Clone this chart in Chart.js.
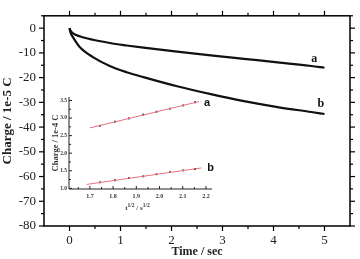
<!DOCTYPE html>
<html>
<head>
<meta charset="utf-8">
<script src="https://cdn.jsdelivr.net/npm/chart.js@4.4.1/dist/chart.umd.min.js"></script>
<style>
html,body{margin:0;padding:0;background:#fff;}
#wrap{position:relative;width:360px;height:259px;}
#mainChart{position:absolute;left:0;top:0;}
#insetBox{position:absolute;left:51px;top:90px;width:176px;height:125px;}
</style>
</head>
<body>
<div id="wrap">
  <canvas id="mainChart" width="360" height="259"></canvas>
  <div id="insetBox"><canvas id="insetChart" width="176" height="125"></canvas></div>
</div>
<script>
// MAIN DATA (charge vs time)
const timeSec = [0, 0.02, 0.07, 0.2, 0.46, 0.79, 1.12, 1.45, 2.11, 2.77, 3.42, 4.08, 4.74, 5.0];
const chargeA = [0, -1.0, -2.1, -3.3, -4.7, -6.0, -7.0, -7.9, -9.5, -11.0, -12.4, -13.8, -15.3, -16.0];
const chargeB = [0, -1.8, -3.7, -7.6, -11.7, -15.3, -17.8, -19.8, -23.5, -26.7, -29.5, -31.9, -33.9, -34.7];
const xTicks = [0, 1, 2, 3, 4, 5];
const yTicks = [-80, -70, -60, -50, -40, -30, -20, -10, 0];

// INSET DATA (charge vs t^1/2)
const sqrtT = [1.743, 1.808, 1.868, 1.930, 1.987, 2.045, 2.102, 2.153];
const insetA = [2.78, 2.90, 2.99, 3.10, 3.18, 3.27, 3.36, 3.45];
const insetB = [1.17, 1.23, 1.29, 1.34, 1.40, 1.46, 1.51, 1.55];
const fitXA = [1.70, 2.17];
const fitA = [2.72, 3.47];
const fitXB = [1.686, 2.18];
const fitB = [1.11, 1.58];
const insetXTicks = [1.7, 1.8, 1.9, 2.0, 2.1, 2.2];
const insetYTicks = [1.0, 1.5, 2.0, 2.5, 3.0, 3.5];

const SERIF = "'Liberation Serif', 'DejaVu Serif', serif";

function seg(ctx, x1, y1, x2, y2){
  ctx.beginPath(); ctx.moveTo(x1, y1); ctx.lineTo(x2, y2); ctx.stroke();
}
function pts(xs, ys){ return xs.map((v, i) => ({x: v, y: ys[i]})); }

// frame + ticks on all four sides, curve labels
const frameTicks = {
  id: 'frameTicks',
  afterDraw(chart){
    const {ctx, chartArea: a, scales: {x, y}} = chart;
    ctx.save();
    ctx.strokeStyle = '#000';
    ctx.lineWidth = 1.5;
    ctx.strokeRect(a.left, a.top, a.right - a.left, a.bottom - a.top);
    ctx.lineWidth = 1.2;
    for (let v = 0; v <= 5; v += 0.5){
      const px = x.getPixelForValue(v), len = v % 1 === 0 ? 5 : 3;
      seg(ctx, px, a.bottom, px, a.bottom + len);
      seg(ctx, px, a.top, px, a.top - len);
    }
    for (let v = -80; v <= 5; v += 5){
      const py = y.getPixelForValue(v), len = v % 10 === 0 ? 5 : 3;
      seg(ctx, a.left, py, a.left - len, py);
      seg(ctx, a.right, py, a.right + len, py);
    }
    ctx.fillStyle = '#111';
    ctx.font = 'bold 12px ' + SERIF;
    ctx.textAlign = 'center';
    ctx.textBaseline = 'middle';
    ctx.fillText('a', x.getPixelForValue(4.8), y.getPixelForValue(-12.6));
    ctx.fillText('b', x.getPixelForValue(4.93), y.getPixelForValue(-30.8));
    ctx.restore();
  }
};

new Chart(document.getElementById('mainChart'), {
  type: 'line',
  data: {
    datasets: [
      {label: 'a', data: pts(timeSec, chargeA), borderColor: '#111', borderWidth: 2.2, pointRadius: 0, cubicInterpolationMode: 'monotone'},
      {label: 'b', data: pts(timeSec, chargeB), borderColor: '#111', borderWidth: 2.2, pointRadius: 0, cubicInterpolationMode: 'monotone'}
    ]
  },
  options: {
    responsive: false,
    animation: false,
    layout: {padding: {top: 7, right: 10, left: 0, bottom: 0}},
    plugins: {legend: {display: false}, tooltip: {enabled: false}},
    scales: {
      x: {
        type: 'linear', min: -0.5, max: 5.5,
        afterBuildTicks: s => { s.ticks = xTicks.map(v => ({value: v})); },
        afterFit: s => { s.height = 33; },
        grid: {display: false, drawTicks: false}, border: {display: false},
        ticks: {color: '#222', padding: 7, font: {family: SERIF, size: 13}},
        title: {display: true, text: 'Time / sec', color: '#222', padding: {top: 0, bottom: 0}, font: {family: SERIF, size: 12, weight: 'bold'}}
      },
      y: {
        type: 'linear', min: -80, max: 5,
        afterBuildTicks: s => { s.ticks = yTicks.map(v => ({value: v})); },
        afterFit: s => { s.width = 44; },
        grid: {display: false, drawTicks: false}, border: {display: false},
        ticks: {color: '#222', padding: 8, font: {family: SERIF, size: 13}},
        title: {display: true, text: 'Charge / 1e-5 C', color: '#222', padding: {top: 0, bottom: 0}, font: {family: SERIF, size: 13, weight: 'bold'}}
      }
    }
  },
  plugins: [frameTicks]
});

// INSET axes, ticks, labels
const insetDeco = {
  id: 'insetDeco',
  afterDraw(chart){
    const {ctx, chartArea: a, scales: {x, y}} = chart;
    ctx.save();
    ctx.strokeStyle = '#222';
    ctx.lineWidth = 1;
    seg(ctx, a.left, a.top, a.left, a.bottom);
    seg(ctx, a.left, a.bottom, a.right, a.bottom);
    for (let v = 1.65; v <= 2.2251; v += 0.05){
      const px = x.getPixelForValue(v);
      const major = Math.abs(v * 10 - Math.round(v * 10)) < 0.01;
      seg(ctx, px, a.bottom, px, a.bottom - (major ? 3 : 2));
    }
    for (let v = 1.0; v <= 3.501; v += 0.25){
      const py = y.getPixelForValue(v);
      const major = Math.abs(v * 2 - Math.round(v * 2)) < 0.01;
      seg(ctx, a.left, py, a.left + (major ? 3 : 2), py);
    }
    // x title with superscripts
    ctx.fillStyle = '#333';
    ctx.textBaseline = 'alphabetic';
    ctx.textAlign = 'left';
    const parts = [['t', 7, 0], ['1/2', 5.5, -3], [' / ', 7, 0], ['s', 7, 0], ['1/2', 5.5, -3]];
    let w = 0;
    parts.forEach(p => { ctx.font = 'bold ' + p[1] + 'px ' + SERIF; w += ctx.measureText(p[0]).width; });
    let cx = (a.left + a.right) / 2 - w / 2 - 3;
    const by = a.bottom + 21;
    parts.forEach(p => {
      ctx.font = 'bold ' + p[1] + 'px ' + SERIF;
      ctx.fillText(p[0], cx, by + p[2]);
      cx += ctx.measureText(p[0]).width;
    });
    // curve labels
    ctx.fillStyle = '#111';
    ctx.font = 'bold 11px "Liberation Sans", Arial, sans-serif';
    ctx.textAlign = 'center';
    ctx.textBaseline = 'middle';
    ctx.fillText('a', x.getPixelForValue(2.205), y.getPixelForValue(3.42));
    ctx.fillText('b', x.getPixelForValue(2.22), y.getPixelForValue(1.58));
    ctx.restore();
  }
};

new Chart(document.getElementById('insetChart'), {
  type: 'line',
  data: {
    datasets: [
      {data: pts(fitXA, fitA), borderColor: '#e8707c', borderWidth: 1, pointRadius: 0},
      {data: pts(fitXB, fitB), borderColor: '#e8707c', borderWidth: 1, pointRadius: 0},
      {data: pts(sqrtT, insetA), showLine: false, pointRadius: 1.3, pointStyle: 'rect', backgroundColor: '#222', borderColor: '#222', borderWidth: 0},
      {data: pts(sqrtT, insetB), showLine: false, pointRadius: 1.3, pointStyle: 'rect', backgroundColor: '#222', borderColor: '#222', borderWidth: 0}
    ]
  },
  options: {
    responsive: false,
    animation: false,
    layout: {padding: {top: 7, right: 15, left: 0, bottom: 0}},
    plugins: {legend: {display: false}, tooltip: {enabled: false}},
    scales: {
      x: {
        type: 'linear', min: 1.61, max: 2.226,
        afterBuildTicks: s => { s.ticks = insetXTicks.map(v => ({value: v})); },
        afterFit: s => { s.height = 26; },
        grid: {display: false, drawTicks: false}, border: {display: false},
        ticks: {color: '#333', padding: 4, font: {family: SERIF, size: 6, weight: 'bold'}, callback: v => v.toFixed(1)},
      },
      y: {
        type: 'linear', min: 0.98, max: 3.6,
        afterBuildTicks: s => { s.ticks = insetYTicks.map(v => ({value: v})); },
        afterFit: s => { s.width = 18; },
        grid: {display: false, drawTicks: false}, border: {display: false},
        ticks: {color: '#333', padding: 2, font: {family: SERIF, size: 5.5, weight: 'bold'}, callback: v => v.toFixed(1)},
        title: {display: true, text: 'Charge / 1e-4 C', color: '#333', padding: {top: 0, bottom: 0}, font: {family: SERIF, size: 8.5, weight: 'bold'}}
      }
    }
  },
  plugins: [insetDeco]
});
</script>
</body>
</html>
